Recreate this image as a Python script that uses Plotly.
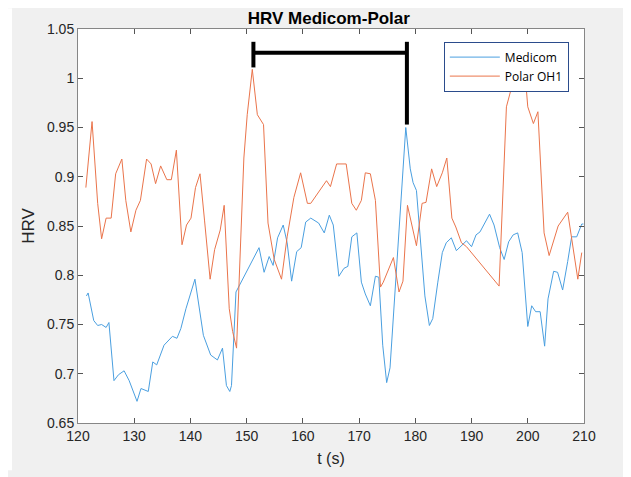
import plotly.graph_objects as go

# Medicom series
medicom_t = [121.5, 121.8, 122.8, 123.5, 124.2, 125.0, 125.5, 126.4, 127.2, 128.2, 129.1, 130.5,
             131.2, 132.5, 133.3, 134.0, 135.3, 136.8, 137.6, 138.3, 139.2, 140.1, 140.8, 142.3,
             143.6, 144.8, 145.7, 146.4, 147.0, 147.3, 148.1,
             152.2, 153.1, 154.0, 154.7, 155.5, 156.5, 157.2, 158.0, 158.9, 159.7, 160.5, 161.4,
             162.8, 163.8, 164.7, 165.4, 166.4, 167.3, 168.0, 168.7, 169.6, 170.4, 171.1, 172.0,
             172.9, 173.5, 174.2, 174.9, 175.5, 176.2, 177.4, 178.3, 179.1, 179.6, 180.2, 181.1,
             181.7, 182.5, 183.1, 184.0, 184.8, 185.5, 186.4, 187.3, 188.2, 189.1, 190.0, 190.8,
             191.5, 192.4, 193.2, 194.0, 195.0, 195.8, 196.6, 197.4, 198.2, 199.0, 200.0, 200.7,
             201.4, 202.2, 203.0, 203.6, 204.6, 205.3, 206.2, 207.1, 207.8, 208.7, 209.6, 209.9]
medicom_v = [0.779, 0.782, 0.754, 0.749, 0.750, 0.747, 0.752, 0.693, 0.699, 0.703, 0.693, 0.672,
             0.685, 0.682, 0.712, 0.709, 0.729, 0.738, 0.736, 0.746, 0.766, 0.783, 0.796, 0.739,
             0.719, 0.714, 0.726, 0.688, 0.682, 0.688, 0.783,
             0.828, 0.803, 0.819, 0.810, 0.838, 0.851, 0.833, 0.794, 0.824, 0.828, 0.854, 0.858,
             0.853, 0.843, 0.861, 0.851, 0.799, 0.807, 0.809, 0.839, 0.843, 0.793, 0.781, 0.769,
             0.799, 0.798, 0.729, 0.691, 0.706, 0.766, 0.873, 0.950, 0.908, 0.894, 0.886, 0.819,
             0.779, 0.749, 0.756, 0.793, 0.823, 0.833, 0.838, 0.825, 0.830, 0.835, 0.829, 0.841,
             0.844, 0.853, 0.862, 0.851, 0.828, 0.816, 0.834, 0.841, 0.843, 0.823, 0.748, 0.769,
             0.763, 0.763, 0.728, 0.776, 0.804, 0.803, 0.785, 0.814, 0.839, 0.839, 0.852, 0.852]

# Polar OH1 series
polar_t = [121.4, 122.5, 123.5, 124.2, 125.0, 125.9, 126.7, 127.8, 128.5, 129.4, 130.3, 131.1,
           132.2, 133.0, 133.8, 134.7, 135.8, 136.6, 137.5, 138.5, 139.3, 140.1, 140.9, 141.7,
           142.5, 143.5, 144.3, 145.3, 146.0, 146.9, 147.5, 148.2, 149.5, 150.1, 151.0, 151.9,
           153.0, 153.8, 154.9, 156.2, 157.2, 158.4, 159.6, 160.8, 161.4, 164.2, 164.9, 166.0,
           167.7, 168.7, 169.5, 170.4, 171.1, 172.0, 172.9, 173.8, 174.3, 176.1, 177.1, 177.8,
           178.6, 179.3, 180.2, 181.2, 181.9, 182.9, 183.8, 184.8, 185.6, 186.5, 187.2, 188.2,
           189.1, 194.9, 196.2, 196.9, 197.5, 198.5, 199.6, 200.0, 201.0, 201.8, 202.9, 203.8,
           205.4, 207.1, 208.0, 208.9, 209.6]
polar_v = [0.889, 0.956, 0.873, 0.837, 0.858, 0.858, 0.903, 0.918, 0.876, 0.844, 0.866, 0.876,
           0.918, 0.913, 0.893, 0.911, 0.897, 0.897, 0.927, 0.831, 0.851, 0.858, 0.889, 0.903,
           0.856, 0.796, 0.826, 0.846, 0.871, 0.766, 0.743, 0.726, 0.919, 0.963, 1.009, 0.963,
           0.953, 0.853, 0.816, 0.796, 0.839, 0.879, 0.904, 0.873, 0.873, 0.896, 0.890, 0.913,
           0.913, 0.873, 0.866, 0.876, 0.904, 0.903, 0.876, 0.788, 0.793, 0.818, 0.783, 0.794,
           0.871, 0.853, 0.830, 0.873, 0.874, 0.908, 0.890, 0.904, 0.919, 0.858, 0.849, 0.833,
           0.829, 0.789, 0.971, 0.986, 1.001, 1.015, 0.999, 0.971, 0.954, 0.966, 0.843, 0.820,
           0.850, 0.864, 0.830, 0.796, 0.823]

# Bracket annotation (data coords)
bracket_t = [151.2, 178.5]
bracket_top = 1.037
bracket_mid = 1.026
bracket_left_bottom = 1.011
bracket_right_bottom = 0.953

x_ticks = [120, 130, 140, 150, 160, 170, 180, 190, 200, 210]
y_ticks = [0.65, 0.7, 0.75, 0.8, 0.85, 0.9, 0.95, 1.0, 1.05]
y_ticktext = ["0.65", "0.7", "0.75", "0.8", "0.85", "0.9", "0.95", "1", "1.05"]

fig = go.Figure()
fig.add_trace(go.Scatter(x=medicom_t, y=medicom_v, mode="lines", name="Medicom",
                         line=dict(color="#4A9FE0", width=1)))
fig.add_trace(go.Scatter(x=polar_t, y=polar_v, mode="lines", name="Polar OH1",
                         line=dict(color="#EA744B", width=1)))
fig.add_trace(go.Scatter(x=[bracket_t[0], bracket_t[0], None, bracket_t[0], bracket_t[1], None,
                            bracket_t[1], bracket_t[1]],
                         y=[bracket_top, bracket_left_bottom, None, bracket_mid, bracket_mid, None,
                            bracket_top, bracket_right_bottom],
                         mode="lines", line=dict(color="black", width=4), showlegend=False,
                         hoverinfo="skip"))

axis_common = dict(showline=True, linecolor="#868686", linewidth=1, mirror="ticks",
                   ticks="inside", ticklen=5, tickcolor="#555555", showgrid=False, zeroline=False,
                   tickfont=dict(family="Liberation Sans, Arial", size=14, color="#262626"))

# page body has an 8px offset; figure is sized so the plot box lands at x 78-584, y 29-429
fig.update_layout(
    width=623, height=469,
    margin=dict(l=70, r=47, t=21, b=48),
    paper_bgcolor="#f0f0f0", plot_bgcolor="white",
    title=dict(text="<b>HRV Medicom-Polar</b>", x=0.515, xanchor="center", y=0.979, yanchor="middle",
               font=dict(family="Liberation Sans, Arial", size=17, color="black")),
    xaxis=dict(range=[120, 210], tickvals=x_ticks,
               title=dict(text="t (s)", standoff=10,
                          font=dict(family="Liberation Sans, Arial", size=16, color="#262626")),
               **axis_common),
    yaxis=dict(range=[0.65, 1.05], tickvals=y_ticks, ticktext=y_ticktext,
               title=dict(text="HRV", standoff=8,
                          font=dict(family="Liberation Sans, Arial", size=17, color="#262626")),
               **axis_common),
    legend=dict(x=0.723, y=0.968, xanchor="left", yanchor="top", bgcolor="white",
                bordercolor="#2B4C8C", borderwidth=1, traceorder="normal",
                font=dict(family="Open Sans", size=12, color="black"),
                tracegroupgap=0, itemwidth=50),
    shapes=[dict(type="rect", xref="paper", yref="paper", x0=-70/506, x1=-66/506, y0=-48/400,
                 y1=421/400, fillcolor="white", line=dict(width=0), layer="below")],
    showlegend=True,
)

fig.write_html("out.html")
